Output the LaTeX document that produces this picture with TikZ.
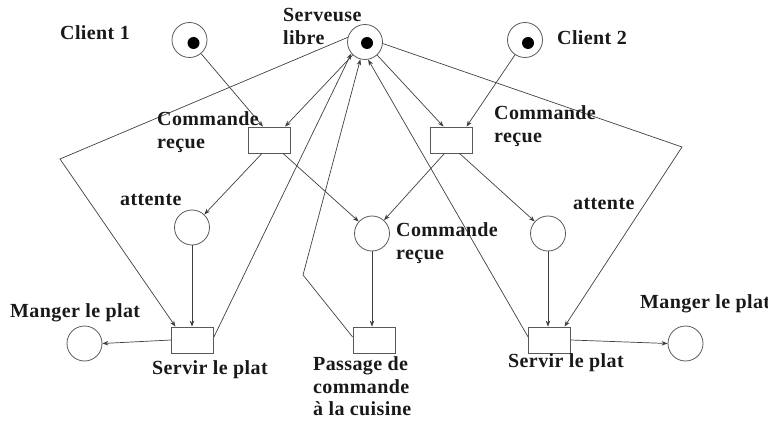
\documentclass[tikz,border=0pt]{standalone}
\usepackage{fontspec}
\setmainfont{Liberation Serif}[BoldFont={Liberation Serif Bold},LetterSpace=2]
\usetikzlibrary{arrows.meta}
\tikzset{
  place/.style={circle,draw=black!65,line width=0.8pt,minimum size=35pt,inner sep=0pt},
  token/.style={circle,fill=black,minimum size=12pt,inner sep=0pt},
  trans/.style={rectangle,draw=black!65,line width=0.8pt,minimum width=42pt,minimum height=26pt,inner sep=0pt},
  lbl/.style={inner sep=0pt,font=\fontsize{20}{22.5}\selectfont\bfseries,text=black!90},
  arc/.style={draw=black!75,line width=0.7pt,-{Stealth[length=6pt,width=4.5pt]}},
}
\begin{document}
\begin{tikzpicture}[x=1pt,y=-1pt]
\useasboundingbox (0,0) rectangle (768,422);

% places
\node[place] (c1) at (189.5,40) {};
\node[token] at (193.5,43) {};
\node[place] (sv) at (365,42) {};
\node[token] at (367,43) {};
\node[place] (c2) at (525,40) {};
\node[token] at (528,43) {};
\node[place] (a1) at (192,227.5) {};
\node[place] (cm) at (372,233.5) {};
\node[place] (a2) at (548,233.5) {};
\node[place] (m1) at (84.5,343.5) {};
\node[place] (m2) at (685.5,343.5) {};

% transitions
\node[trans] (t1) at (269,140) {};
\node[trans] (t2) at (451.5,140) {};
\node[trans] (s1) at (192.5,340) {};
\node[trans] (ps) at (374,340) {};
\node[trans] (s2) at (549.5,340) {};

% bend points of the long arcs
\coordinate (bl) at (60,159);
\coordinate (bm) at (303,275);
\coordinate (br) at (682,147);

% arcs into the order transitions
\draw[arc] (c1) -- ([xshift=-6pt]t1.north);
\draw[arc] (sv) -- ([xshift=16pt]t1.north);
\draw[arc] (sv) -- ([xshift=-8pt]t2.north);
\draw[arc] (c2) -- ([xshift=15pt]t2.north);

% arcs out of the order transitions
\draw[arc] ([xshift=-7pt]t1.south) -- (a1);
\draw[arc] ([xshift=14pt]t1.south) -- (cm);
\draw[arc] ([xshift=-7pt]t2.south) -- (cm);
\draw[arc] ([xshift=8pt]t2.south) -- (a2);

% waiting places to their transitions
\draw[arc] (a1.south) -- (a1.south |- s1.north);
\draw[arc] (cm.south) -- (cm.south |- ps.north);
\draw[arc] (a2.south) -- (a2.south |- s2.north);

% serving
\draw[arc] (s1.west) -- (m1.east);
\draw[arc] (s2.east) -- (m2.west);

% waitress loops
\draw[arc] (sv.165) -- (bl) -- ([xshift=-17pt]s1.north);
\draw[arc] ([yshift=3pt]s1.east) -- (sv.220);
\draw[arc] ([yshift=3pt]ps.west) -- (bm) -- (sv.255);
\draw[arc] ([yshift=3pt]s2.west) -- (sv.280);
\draw[arc] (sv.-5) -- (br) -- ([xshift=15pt]s2.north);

% labels
\node[lbl,anchor=base west] (lc1) at (60,40) {Client 1};
\node[lbl,anchor=north west,align=left] (lsv) at (283,8.5) {Serveuse\\libre};
\node[lbl,anchor=base west] (lc2) at (557,45) {Client 2};
\node[lbl,anchor=north west,align=left] (lt1) at (157,111.5) {Commande\\reçue};
\node[lbl,anchor=north west,align=left] (lt2) at (494,105.5) {Commande\\reçue};
\node[lbl,anchor=base west] (la1) at (120,206) {attente};
\node[lbl,anchor=base west] (la2) at (573,210) {attente};
\node[lbl,anchor=north west,align=left] (lcm) at (396,222.5) {Commande\\reçue};
\node[lbl,anchor=base west] (lm1) at (10,317) {Manger le plat};
\node[lbl,anchor=base west] (lm2) at (640,308) {Manger le plat};
\node[lbl,anchor=base west] (ls1) at (152,374) {Servir le plat};
\node[lbl,anchor=base west] (ls2) at (508,367) {Servir le plat};
\node[lbl,anchor=north west,align=left] (lps) at (313,356.5) {Passage de\\commande\\à la cuisine};
\end{tikzpicture}
\end{document}
